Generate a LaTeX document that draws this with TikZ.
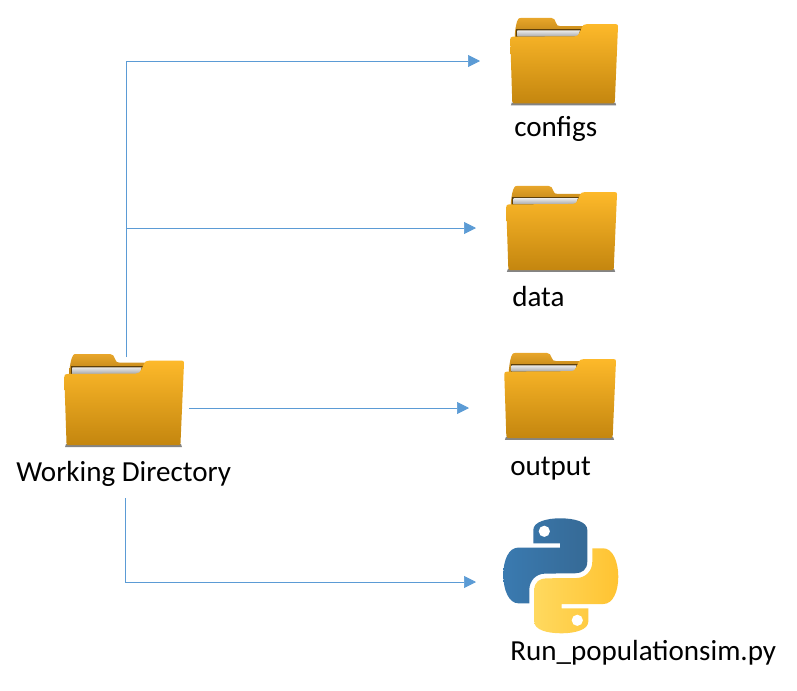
\documentclass[tikz,border=0pt]{standalone}
\usepackage{fontspec}
\setmainfont{Carlito}
\usetikzlibrary{arrows.meta}

\definecolor{linkblue}{HTML}{5B9BD5}
\definecolor{foldertop}{HTML}{FDB92A}
\definecolor{foldermid}{HTML}{EDAC2C}
\definecolor{folderbottom}{HTML}{C4860F}
\definecolor{folderback}{HTML}{E8A62A}
\definecolor{folderbackdark}{HTML}{B97F14}
\definecolor{snakeblue}{HTML}{3A7AB0}
\definecolor{snakebluedark}{HTML}{366A96}
\definecolor{snakeyellow}{HTML}{FFD95F}
\definecolor{snakeyellowdark}{HTML}{FFC331}
\tikzset{
    link/.style={draw=linkblue, line width=0.55pt, -{Stealth[length=9pt, width=9pt, inset=0pt]}},
    caption/.style={anchor=base west, font=\fontsize{21.8}{26}\selectfont, inner sep=0pt},
    folder/.pic={
        \fill [black!60, opacity=0.8] (2, 91) -- (117, 91) -- (118, 94) -- (1, 94) -- cycle;
        \shade [top color=folderback, bottom color=folderbackdark] (5.3, 22) -- (5.3, 18.7) .. controls (6, 12) and (7, 5) .. (9.3, 2) .. controls (10, 1) and (11, 1) .. (13, 1) -- (46, 1) .. controls (49, 1) and (50, 3) .. (51, 6) .. controls (52, 9) and (53, 9.7) .. (56, 9.7) -- (90, 9.7) -- (90, 22) -- cycle;
        \fill [black!50!folderbackdark] (7, 13) rectangle (80, 22);
        \shade [top color=white!92!black, bottom color=black!35] (8.3, 14.3) -- (77.7, 14.3) -- (76, 21) -- (8.3, 21) -- cycle;
        \shade [top color=foldertop, middle color=foldermid, bottom color=folderbottom] (0.3, 24) .. controls (0.3, 22) and (1, 21) .. (3, 21) -- (72, 20.5) .. controls (75, 20.5) and (76, 19) .. (77, 17) -- (80, 11) .. controls (81, 8.5) and (82, 7.7) .. (85, 7.7) -- (118, 7.7) .. controls (119.5, 7.7) and (120, 8.5) .. (120, 10) -- (116.5, 90) .. controls (116.5, 91.5) and (116, 92) .. (115, 92) -- (4, 92) .. controls (3, 92) and (2.5, 91.5) .. (2.5, 90) -- cycle;
    },
    snake half/.pic={
        \shade [left color=#1, right color=#1dark] (-0.8, -32.5) -- (-27.5, -32.5) -- (-27.5, -45.8) .. controls (-27.5, -54) and (-14, -57.5) .. (-0.8, -57.5) .. controls (14, -57.5) and (26.5, -54) .. (26.5, -45.8) -- (26.5, -14.2) .. controls (26.5, -6) and (21, -2.5) .. (14.2, -2.5) -- (-15.8, -2.2) .. controls (-25, -2) and (-31.5, 5) .. (-31.5, 14.2) -- (-31.5, 27.5) -- (-42.5, 27.5) .. controls (-52, 27.5) and (-57.5, 14) .. (-57.5, -0.8) .. controls (-57.5, -16) and (-52, -28.2) .. (-42.5, -28.2) -- (-0.8, -28.2) -- cycle;
        \fill [white] (-16.5, -44.5) circle (5.6);
    }
}

\begin{document}
\begin{tikzpicture}[x=0.75pt, y=-0.75pt]
    \useasboundingbox [fill=white] (0, 0) rectangle (797, 690);

    % folders
    \pic (workingfolder) at (64, 353) {folder};
    \pic [xscale=0.9, yscale=0.94] (configsfolder) at (510, 17) {folder};
    \pic [xscale=0.925, yscale=0.925] (datafolder) at (506, 185) {folder};
    \pic [xscale=0.933, yscale=0.935] (outputfolder) at (504, 352) {folder};

    % python logo
    \pic (snaketop) at (560.8, 575.8) {snake half=snakeblue};
    \pic [rotate=180] (snakebottom) at (560.8, 575.8) {snake half=snakeyellow};

    % labels
    \node [caption] (working) at (16, 481) {Working Directory};
    \node [caption] (configs) at (514, 136) {configs};
    \node [caption] (data) at (512, 306) {data};
    \node [caption] (output) at (510, 475) {output};
    \node [caption] (run) at (510, 660) {Run\_populationsim.py};

    % connector ends
    \coordinate (top) at (126, 357);
    \coordinate (bend) at (126, 61);
    \coordinate (branch) at (126, 228);
    \coordinate (side) at (189, 408);
    \coordinate (low) at (125, 498);
    \coordinate (corner) at (125, 582);
    \coordinate (configsend) at (480, 61);
    \coordinate (dataend) at (476, 228);
    \coordinate (outputend) at (469, 408);
    \coordinate (runend) at (476, 582);

    \draw [link] (top) -- (bend) -- (configsend);
    \draw [link] (branch) -- (dataend);
    \draw [link] (side) -- (outputend);
    \draw [link] (low) -- (corner) -- (runend);
\end{tikzpicture}
\end{document}
